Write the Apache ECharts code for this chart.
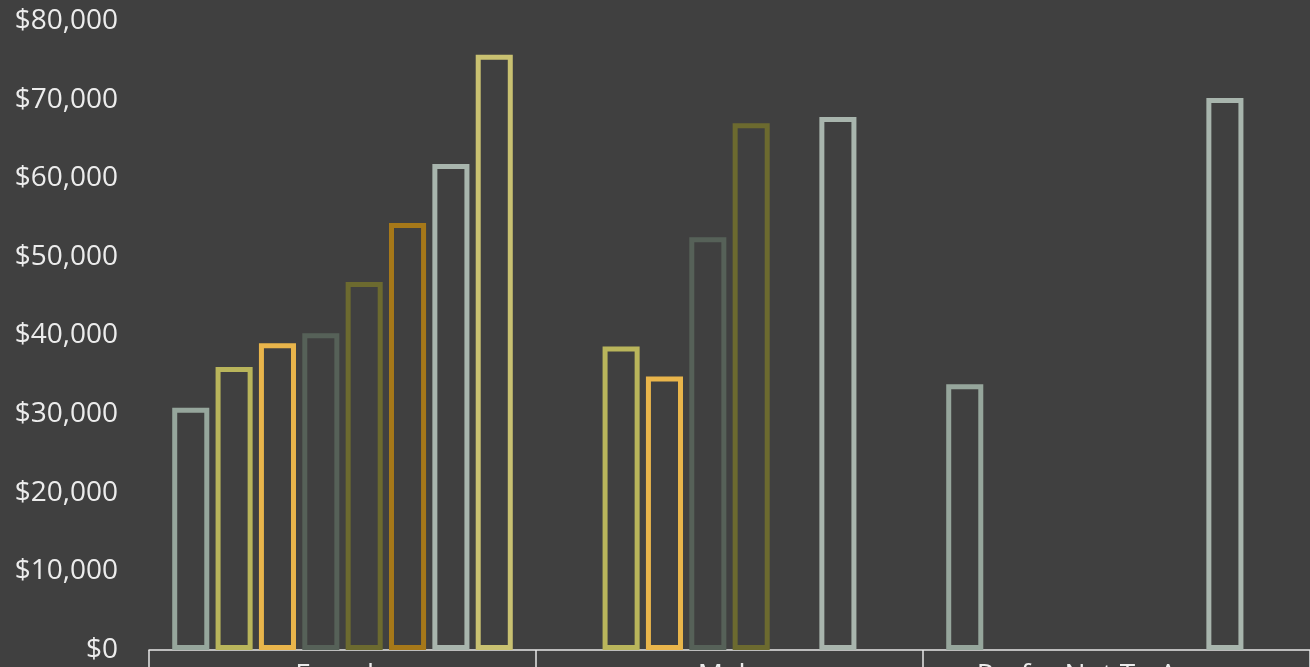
<!DOCTYPE html>
<html>
<head>
<meta charset="utf-8">
<script src="https://cdn.jsdelivr.net/npm/echarts@6/dist/echarts.min.js"></script>
<style>
html,body{margin:0;padding:0;background:#404040;}
#chart{width:1310px;height:667px;}
</style>
</head>
<body>
<div id="chart"></div>
<script>
const categories = ["Female", "Male", "Prefer Not To Answer"];
const seriesNames = ["Group 1", "Group 2", "Group 3", "Group 4", "Group 5", "Group 6", "Group 7", "Group 8"];
const group1 = [30800, null, 33800];
const group2 = [36000, 38600, null];
const group3 = [39000, 34800, null];
const group4 = [40300, 52500, null];
const group5 = [46800, 67000, null];
const group6 = [54300, null, null];
const group7 = [61800, 67800, 70200];
const group8 = [75700, null, null];
const colors = ["#96a69c", "#b9b55b", "#e9b54b", "#566158", "#6c6a2f", "#a67819", "#a8b5ad", "#c9c171"];
const yTicks = { min: 0, max: 80000, interval: 10000 };

const allValues = [group1, group2, group3, group4, group5, group6, group7, group8];

const chart = echarts.init(document.getElementById('chart'), null, { renderer: 'canvas' });
chart.setOption({
  backgroundColor: '#404040',
  animation: false,
  textStyle: { fontFamily: 'Open Sans' },
  grid: { left: 149, right: 0, top: 21, bottom: 17, containLabel: false, outerBoundsMode: 'none' },
  xAxis: {
    type: 'category',
    data: categories,
    boundaryGap: true,
    axisLine: { show: true, lineStyle: { color: '#e6e6e6', width: 1.5 } },
    axisTick: { show: true, alignWithLabel: false, length: 22, lineStyle: { color: '#e6e6e6', width: 1.5 } },
    axisLabel: { color: '#ececec', fontSize: 28, margin: 12, fontFamily: 'Open Sans' },
    splitLine: { show: false }
  },
  yAxis: {
    type: 'value',
    min: yTicks.min, max: yTicks.max, interval: yTicks.interval,
    axisLine: { show: false },
    axisTick: { show: false },
    splitLine: { show: false },
    axisLabel: {
      color: '#ececec', fontSize: 28, margin: 31, fontFamily: 'Open Sans',
      formatter: v => '$' + v.toLocaleString('en-US')
    }
  },
  series: allValues.map((d, i) => ({
    name: seriesNames[i],
    type: 'bar',
    data: d,
    barGap: '17%',
    barCategoryGap: '12%',
    itemStyle: { color: 'transparent', borderColor: colors[i], borderWidth: 5 }
  }))
});
</script>
</body>
</html>
